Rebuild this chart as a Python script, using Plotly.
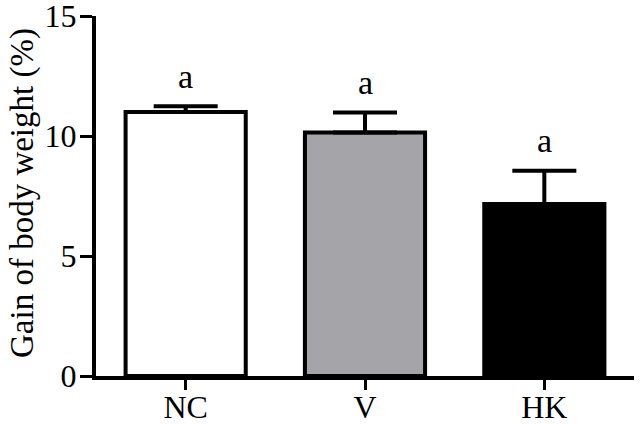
import plotly.graph_objects as go

# ── Data ──────────────────────────────────────────────────────────────────────
groups = ["NC", "V", "HK"]
gain = [11.0, 10.15, 7.17]
sem = [0.24, 0.83, 1.38]
letters = ["a", "a", "a"]
fills = ["#FFFFFF", "#A5A4A9", "#000000"]

FONT = "'Liberation Serif', 'Times New Roman', serif"

fig = go.Figure()
fig.add_trace(go.Bar(
    x=groups,
    y=gain,
    width=0.67,
    marker=dict(color=fills, line=dict(color="#000000", width=4)),
    error_y=dict(
        type="data",
        array=sem,
        arrayminus=[0] * len(sem),
        symmetric=False,
        color="#000000",
        thickness=4,
        width=32,
    ),
    showlegend=False,
    hoverinfo="skip",
))

# significance letters above the error caps
for g, v, e, t in zip(groups, gain, sem, letters):
    fig.add_annotation(
        x=g, y=v + e, text=t, showarrow=False,
        yanchor="middle", yshift=30,
        font=dict(family=FONT, size=34, color="#000000"),
    )

# y-axis title as a rotated annotation
fig.add_annotation(
    x=0, xref="paper", xanchor="center", xshift=-74,
    y=0.5, yref="paper", yanchor="middle", yshift=3,
    text="Gain of body weight (%)", textangle=-90, showarrow=False,
    font=dict(family=FONT, size=33, color="#000000"),
)

fig.update_layout(
    width=642, height=425,
    paper_bgcolor="#FFFFFF",
    plot_bgcolor="#FFFFFF",
    margin=dict(l=96, r=8, t=16, b=49, autoexpand=False),
    font=dict(family=FONT, size=32, color="#000000"),
)
fig.update_xaxes(
    range=[-0.5, 2.5],
    automargin=False,
    showline=True, linecolor="#000000", linewidth=4,
    ticks="outside", ticklen=10, tickwidth=3, tickcolor="#000000",
    tickfont=dict(family=FONT, size=32, color="#000000"),
    ticklabeloverflow="allow", ticklabelstandoff=-10,
    showgrid=False, zeroline=False,
)
fig.update_yaxes(
    range=[0, 15],
    automargin=False,
    tickvals=[0, 5, 10, 15],
    showline=True, linecolor="#000000", linewidth=4,
    ticks="outside", ticklen=12, tickwidth=3, tickcolor="#000000",
    tickfont=dict(family=FONT, size=32, color="#000000"),
    ticklabeloverflow="allow", ticklabelstandoff=-3,
    showgrid=False, zeroline=False,
)

fig.write_html(
    "out.html",
    config={"displayModeBar": False},
    post_script="document.body.style.margin='0';",
)
